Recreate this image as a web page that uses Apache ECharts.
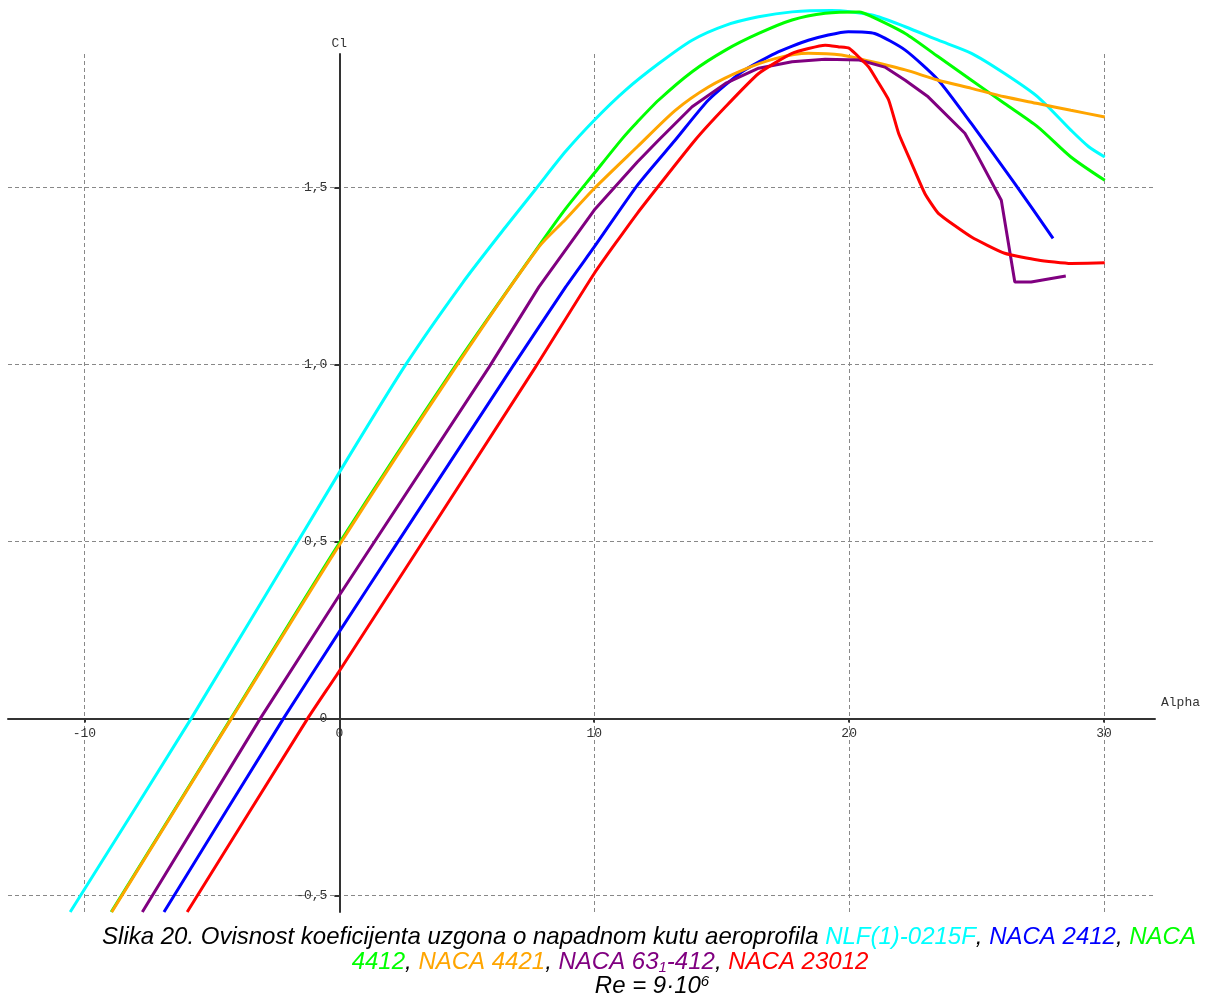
<!DOCTYPE html>
<html>
<head>
<meta charset="utf-8">
<script src="https://cdn.jsdelivr.net/npm/echarts@6/dist/echarts.min.js"></script>
<style>
html,body{margin:0;padding:0;background:#fff;}
#chart{width:1207px;height:999px;}
</style>
</head>
<body>
<div id="chart"></div>
<script>
// Tick labels
const alphaTicks = [-10, 0, 10, 20, 30];
const clTicks = [-0.5, 0, 0.5, 1.0, 1.5];

// NLF(1)-0215F
const nlfAlpha = [-10.56, -5.81, 0, 2.61, 4.83, 6.53, 7.7, 8.88, 10, 11.23, 12.53, 13.84, 15.15, 16.45, 17.76, 19.3, 20.9, 22.2, 23.5, 24.8, 26.1, 27.4, 28.7, 29.4, 30.03];
const nlfCl    = [-0.547, 0, 0.695, 1.0, 1.23, 1.389, 1.495, 1.602, 1.69, 1.775, 1.85, 1.916, 1.958, 1.982, 1.996, 2.0, 1.987, 1.954, 1.916, 1.879, 1.822, 1.756, 1.662, 1.615, 1.586];

// NACA 2412
const n2412Alpha = [-6.88, -2.19, 0, 2.22, 6.79, 8.88, 10, 11.69, 13.18, 14.48, 15.8, 17.1, 18.4, 19.97, 21.0, 22.2, 23.5, 24.8, 26.5, 28.0];
const n2412Cl    = [-0.547, 0, 0.245, 0.49, 0.993, 1.219, 1.332, 1.506, 1.634, 1.747, 1.827, 1.879, 1.916, 1.94, 1.935, 1.888, 1.803, 1.68, 1.511, 1.356];

// NACA 4412
const n4412Alpha = [-8.95, -4.25, 0, 4.57, 7.83, 8.88, 10, 11.1, 11.69, 12.53, 13.84, 15.15, 16.45, 17.76, 19.06, 20.4, 20.9, 22.2, 23.5, 24.8, 26.1, 27.4, 28.7, 30.03];
const n4412Cl    = [-0.547, 0, 0.495, 0.998, 1.335, 1.44, 1.54, 1.638, 1.685, 1.747, 1.827, 1.888, 1.935, 1.973, 1.992, 1.996, 1.982, 1.935, 1.869, 1.803, 1.737, 1.671, 1.586, 1.52];

// NACA 4421
const n4421Alpha = [-8.93, -4.23, 0, 4.57, 7.83, 8.88, 10, 11.69, 13.18, 14.48, 15.8, 17.1, 18.4, 19.7, 20.9, 22.2, 23.5, 24.8, 26.1, 27.4, 28.7, 30.03];
const n4421Cl    = [-0.547, 0, 0.49, 0.993, 1.332, 1.41, 1.497, 1.615, 1.718, 1.784, 1.831, 1.864, 1.879, 1.874, 1.855, 1.832, 1.803, 1.78, 1.756, 1.737, 1.718, 1.699];

// NACA 63(1)-412
const n63Alpha = [-7.73, -3.1, 0, 5.88, 7.83, 10, 11.69, 12.53, 13.84, 15.15, 16.45, 17.76, 19.06, 20.4, 21.4, 22.2, 23.1, 24.54, 24.93, 25.97, 26.5, 27.14, 27.93, 28.5];
const n63Cl    = [-0.547, 0, 0.348, 0.993, 1.219, 1.436, 1.572, 1.634, 1.728, 1.794, 1.837, 1.855, 1.862, 1.86, 1.84, 1.803, 1.756, 1.653, 1.604, 1.464, 1.233, 1.233, 1.243, 1.25];

// NACA 23012
const n23012Alpha = [-5.97, -1.24, 0, 7.7, 10, 11.69, 13.96, 15.15, 16.45, 17.76, 19.06, 19.6, 20, 20.76, 21.09, 21.55, 21.94, 22.45, 22.97, 23.5, 24.8, 26.1, 27.4, 28.7, 30.03];
const n23012Cl    = [-0.547, 0, 0.134, 0.993, 1.257, 1.427, 1.634, 1.728, 1.822, 1.879, 1.902, 1.897, 1.893, 1.841, 1.803, 1.747, 1.653, 1.568, 1.483, 1.427, 1.36, 1.314, 1.295, 1.285, 1.287];

const seriesNames = ['NLF(1)-0215F', 'NACA 2412', 'NACA 4412', 'NACA 4421', 'NACA 63-412', 'NACA 23012'];
const seriesColors = ['#00FFFF', '#0000FF', '#00FF00', '#FFA500', '#800080', '#FF0000'];
const seriesSmooth = [0.25, 0.2, 0.25, 0.25, 0, 0.15];
const seriesAlpha = [nlfAlpha, n2412Alpha, n4412Alpha, n4421Alpha, n63Alpha, n23012Alpha];
const seriesCl = [nlfCl, n2412Cl, n4412Cl, n4421Cl, n63Cl, n23012Cl];

const pair = (xs, ys) => xs.map((x, i) => [x, ys[i]]);

// axis ranges and grid
const xMin = -13, xMax = 32, yMin = -0.547, yMax = 1.877;
const W = 1207, H = 999;
const grid = {left: 8, right: 52, top: 54, bottom: 87};
const gridW = W - grid.left - grid.right;
const gridH = H - grid.top - grid.bottom;
// place the axes where the other axis is zero
const xAxisOffset = -gridH * (0 - yMin) / (yMax - yMin);
const yAxisOffset = -gridW * (0 - xMin) / (xMax - xMin);

const mono = 'Liberation Mono, Courier New, monospace';
const capFont = 'Liberation Sans, Arial, sans-serif';
const base = {fontFamily: capFont, fontStyle: 'italic', fontWeight: 'normal', fontSize: 24, lineHeight: 25, color: '#000'};
const rich = {
  t: Object.assign({}, base),
  c: Object.assign({}, base, {color: '#00FFFF'}),
  b: Object.assign({}, base, {color: '#0000FF'}),
  g: Object.assign({}, base, {color: '#00FF00'}),
  o: Object.assign({}, base, {color: '#FFA500'}),
  p: Object.assign({}, base, {color: '#800080'}),
  ps: Object.assign({}, base, {color: '#800080', fontSize: 15, verticalAlign: 'bottom'}),
  r: Object.assign({}, base, {color: '#FF0000'}),
  sup: Object.assign({}, base, {fontSize: 15, verticalAlign: 'top'})
};

const chart = echarts.init(document.getElementById('chart'), null, {renderer: 'canvas'});
chart.setOption({
  backgroundColor: '#fff',
  animation: false,
  title: [
    {left: 649, top: 925, textAlign: 'center', padding: 0,
     text: '{t|Slika 20. Ovisnost koeficijenta uzgona o napadnom kutu aeroprofila }{c|NLF(1)-0215F}{t|, }{b|NACA 2412}{t|, }{g|NACA}',
     textStyle: {fontWeight: 'normal', rich: rich}},
    {left: 610, top: 950, textAlign: 'center', padding: 0,
     text: '{g|4412}{t|, }{o|NACA 4421}{t|, }{p|NACA 63}{ps|1}{p|-412}{t|, }{r|NACA 23012}',
     textStyle: {fontWeight: 'normal', rich: rich}},
    {left: 652, top: 974, textAlign: 'center', padding: 0,
     text: '{t|Re = 9·10}{sup|6}',
     textStyle: {fontWeight: 'normal', rich: rich}}
  ],
  grid: {left: grid.left, right: grid.right, top: grid.top, bottom: grid.bottom, containLabel: false, outerBoundsMode: 'none'},
  xAxis: {
    type: 'value', min: xMin, max: xMax, position: 'bottom', offset: xAxisOffset,
    name: 'Alpha', nameLocation: 'end', nameGap: 6,
    nameTextStyle: {fontFamily: mono, fontSize: 13, color: '#333', verticalAlign: 'bottom', align: 'left', padding: [0, 0, 9, 0]},
    axisLine: {onZero: false, lineStyle: {color: '#333', width: 2}},
    axisTick: {show: true, customValues: alphaTicks, length: 4, lineStyle: {color: '#333', width: 2}},
    axisLabel: {customValues: alphaTicks, margin: 9, fontFamily: mono, fontSize: 13, color: '#333',
                formatter: v => String(v)},
    splitLine: {show: true, lineStyle: {color: '#888', width: 1, type: [4, 3]}}
  },
  yAxis: {
    type: 'value', min: yMin, max: yMax, position: 'left', offset: yAxisOffset,
    name: 'Cl', nameLocation: 'end', nameGap: 4,
    nameTextStyle: {fontFamily: mono, fontSize: 13, color: '#333', align: 'center'},
    axisLine: {onZero: false, lineStyle: {color: '#333', width: 2}},
    axisTick: {show: true, customValues: clTicks, length: 5, lineStyle: {color: '#333', width: 2}},
    axisLabel: {customValues: clTicks, margin: 12, fontFamily: mono, fontSize: 13, color: '#333',
                formatter: v => (Math.abs(v) < 1e-9 ? '0' : v.toFixed(1).replace('.', ','))},
    splitLine: {show: true, lineStyle: {color: '#888', width: 1, type: [4, 3]}}
  },
  series: seriesNames.map((n, i) => ({
    name: n, type: 'line', data: pair(seriesAlpha[i], seriesCl[i]),
    showSymbol: false, symbol: 'none', clip: false, smooth: seriesSmooth[i],
    lineStyle: {color: seriesColors[i], width: 3}, z: 3 + i
  }))
});
</script>
</body>
</html>
